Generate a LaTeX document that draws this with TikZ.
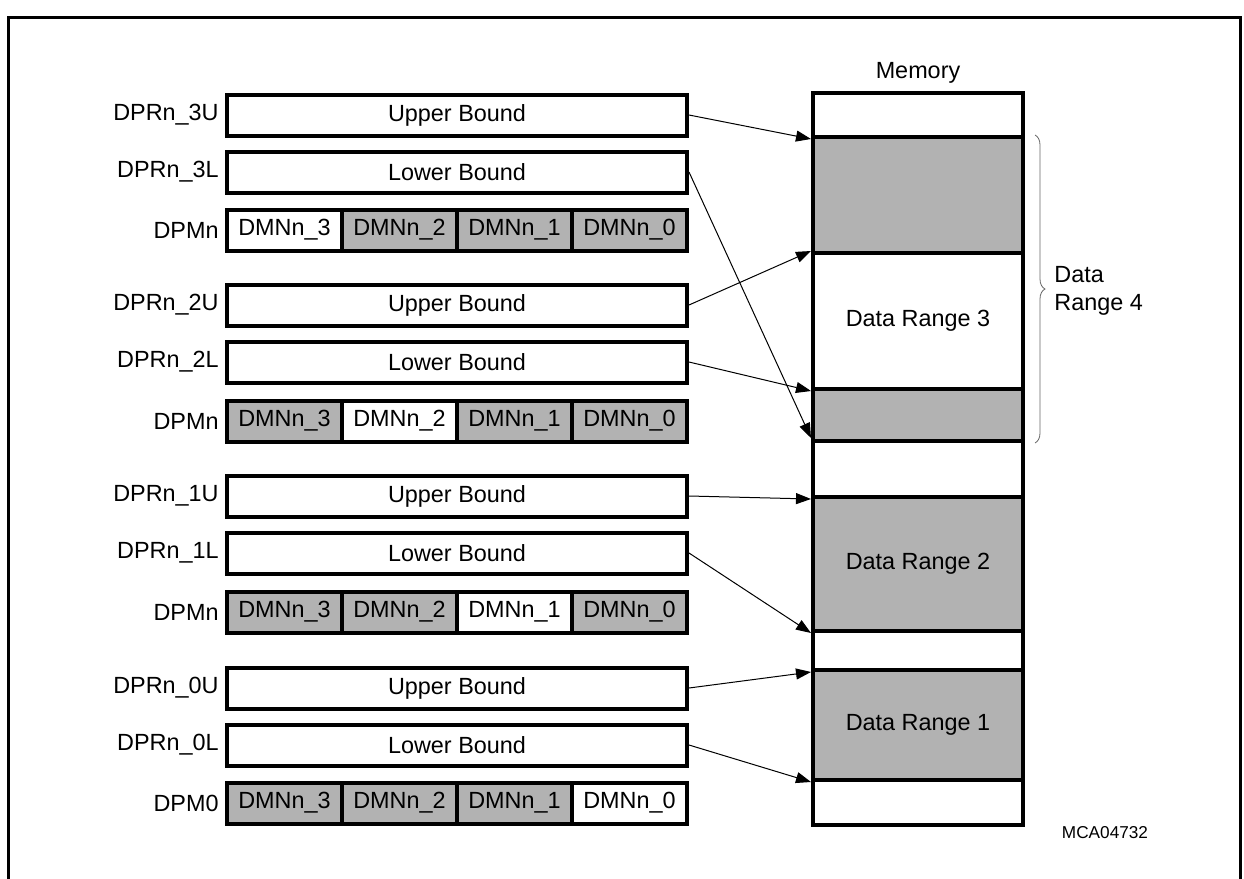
\documentclass[tikz,border=0pt]{standalone}
\usepackage{fontspec}
\setmainfont{Liberation Sans}
\usetikzlibrary{arrows.meta,decorations.pathreplacing,calc}
\begin{document}
\begin{tikzpicture}[x=0.5pt,y=-0.5pt,
  txt/.style={font=\fontsize{11.7}{14}\selectfont},
  reg/.style={draw, line width=2pt, minimum width=230pt, minimum height=20.5pt, inner sep=0pt, fill=white, txt},
  cell/.style={draw, line width=2pt, minimum width=57.5pt, minimum height=20.5pt, inner sep=0pt, txt},
  on/.style={fill=white},
  off/.style={fill=black!30},
  lab/.style={anchor=east, inner sep=0pt, txt},
  mem/.style={draw, line width=2pt, minimum width=105pt, inner sep=0pt, txt},
  ptr/.style={line width=0.5pt, -{Triangle[length=7.5pt,width=5.5pt]}}]
\useasboundingbox (0,0) rectangle (1244,879);
% frame
\draw[line width=1.5pt] (8,879) -- (8,17) -- (1240,17) -- (1240,879);

% group 3
\node[reg] (r3u) at (457,115) {Upper Bound};
\node[lab] (l3u) at (219,115) {DPRn\_3U};
\node[reg] (r3l) at (457,172) {Lower Bound};
\node[lab] (l3l) at (219,172) {DPRn\_3L};
\node[lab] (l3m) at (219,230) {DPMn};
\node[cell,on]  (c33) at (284.5,230) {DMNn\_3};
\node[cell,off] (c32) at (399.5,230) {DMNn\_2};
\node[cell,off] (c31) at (514.5,230) {DMNn\_1};
\node[cell,off] (c30) at (629.5,230) {DMNn\_0};

% group 2
\node[reg] (r2u) at (457,305) {Upper Bound};
\node[lab] (l2u) at (219,305) {DPRn\_2U};
\node[reg] (r2l) at (457,362) {Lower Bound};
\node[lab] (l2l) at (219,362) {DPRn\_2L};
\node[lab] (l2m) at (219,421) {DPMn};
\node[cell,off] (c23) at (284.5,421) {DMNn\_3};
\node[cell,on]  (c22) at (399.5,421) {DMNn\_2};
\node[cell,off] (c21) at (514.5,421) {DMNn\_1};
\node[cell,off] (c20) at (629.5,421) {DMNn\_0};

% group 1
\node[reg] (r1u) at (457,496) {Upper Bound};
\node[lab] (l1u) at (219,496) {DPRn\_1U};
\node[reg] (r1l) at (457,553) {Lower Bound};
\node[lab] (l1l) at (219,553) {DPRn\_1L};
\node[lab] (l1m) at (219,612) {DPMn};
\node[cell,off] (c13) at (284.5,612) {DMNn\_3};
\node[cell,off] (c12) at (399.5,612) {DMNn\_2};
\node[cell,on]  (c11) at (514.5,612) {DMNn\_1};
\node[cell,off] (c10) at (629.5,612) {DMNn\_0};

% group 0
\node[reg] (r0u) at (457,688) {Upper Bound};
\node[lab] (l0u) at (219,688) {DPRn\_0U};
\node[reg] (r0l) at (457,745) {Lower Bound};
\node[lab] (l0l) at (219,745) {DPRn\_0L};
\node[lab] (l0m) at (219,803) {DPM0};
\node[cell,off] (c03) at (284.5,803) {DMNn\_3};
\node[cell,off] (c02) at (399.5,803) {DMNn\_2};
\node[cell,off] (c01) at (514.5,803) {DMNn\_1};
\node[cell,on]  (c00) at (629.5,803) {DMNn\_0};

% memory
\node[txt] (memlab) at (918,73) {Memory};
\node[mem,on,minimum height=22pt]   (m1) at (918,115) {};
\node[mem,off,minimum height=58pt]  (m2) at (918,195) {};
\node[mem,on,minimum height=68pt]   (m3) at (918,321) {Data Range 3};
\node[mem,off,minimum height=26pt]  (m4) at (918,415) {};
\node[mem,on,minimum height=28pt]   (m5) at (918,469) {};
\node[mem,off,minimum height=67pt]  (m6) at (918,564) {Data Range 2};
\node[mem,on,minimum height=19.5pt] (m7) at (918,650.5) {};
\node[mem,off,minimum height=55pt]  (m8) at (918,725) {Data Range 1};
\node[mem,on,minimum height=22.5pt] (m9) at (918,802.5) {};

% brace
\draw[decorate, decoration={brace, amplitude=5pt}, black!60, line width=0.4pt]
  (m2.north east) ++(10,0) coordinate (bt) -- ($(m4.south east)+(10,0)$) coordinate (bb);
\node[txt, anchor=west, align=left, inner sep=0pt] (dr4) at (1054,291) {Data\\Range 4};

\node[font=\fontsize{8.6}{10}\selectfont] (id) at (1105,833) {MCA04732};

% pointers
\draw[ptr] (r3u.east) -- (m1.south west);
\draw[ptr] (r3l.east) -- ($(m4.south west)+(0,-5)$);
\draw[ptr] (r2u.east) -- (m3.north west);
\draw[ptr] (r2l.east) -- (m3.south west);
\draw[ptr] (r1u.east) -- (m5.south west);
\draw[ptr] (r1l.east) -- (m6.south west);
\draw[ptr] (r0u.east) -- (m7.south west);
\draw[ptr] (r0l.east) -- (m8.south west);
\end{tikzpicture}
\end{document}
